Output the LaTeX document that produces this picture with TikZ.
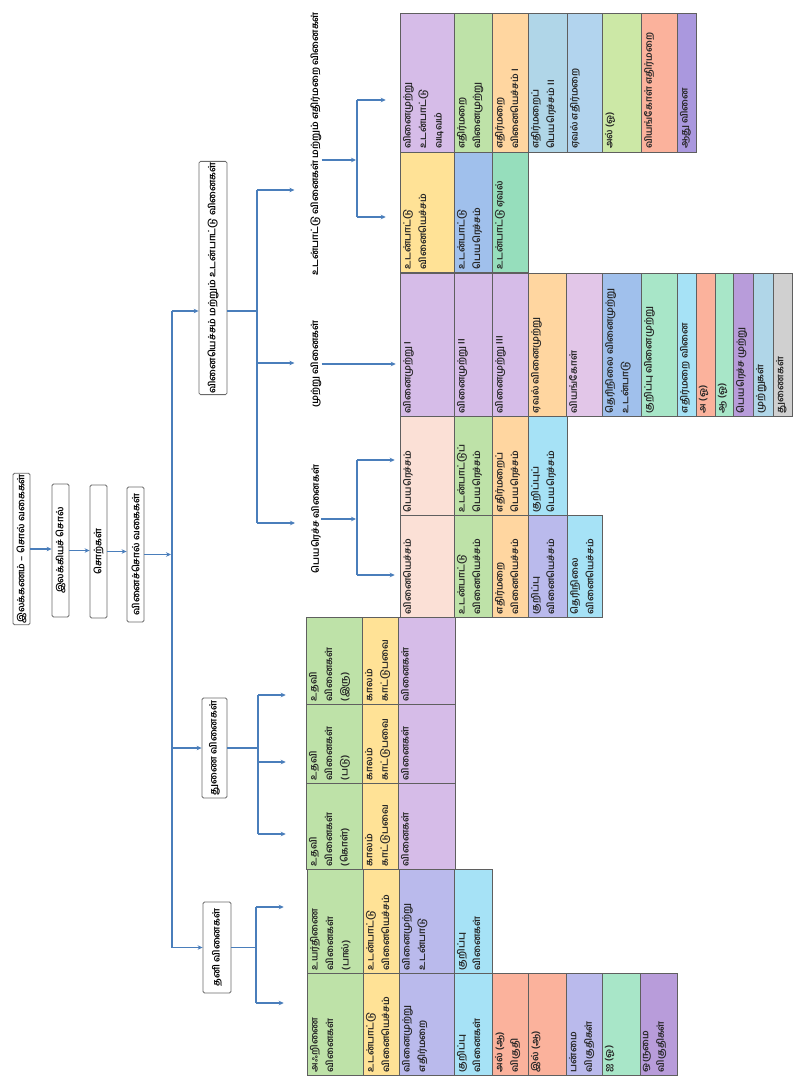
\documentclass[tikz,border=0pt]{standalone}
\usepackage{fontspec}
\newfontfamily\tamilfont[Script=Tamil]{Hind Madurai}
\usetikzlibrary{arrows.meta}
\definecolor{linkc}{RGB}{74,126,187}
\definecolor{boxline}{RGB}{105,105,105}
\definecolor{cellline}{RGB}{95,95,95}
\definecolor{cPur}{RGB}{214,188,232}
\definecolor{cGrn}{RGB}{190,226,168}
\definecolor{cPch}{RGB}{255,214,160}
\definecolor{cLbA}{RGB}{176,214,232}
\definecolor{cLbB}{RGB}{178,212,238}
\definecolor{cLgr}{RGB}{204,232,166}
\definecolor{cSal}{RGB}{251,178,156}
\definecolor{cLav}{RGB}{170,152,222}
\definecolor{cYel}{RGB}{255,226,150}
\definecolor{cBlu}{RGB}{160,192,236}
\definecolor{cTea}{RGB}{150,222,188}
\definecolor{cCya}{RGB}{166,226,246}
\definecolor{cPnk}{RGB}{251,224,214}
\definecolor{cGry}{RGB}{208,208,208}
\definecolor{cMnt}{RGB}{168,230,200}
\definecolor{cLvb}{RGB}{186,186,236}
\definecolor{cPkb}{RGB}{226,198,232}
\definecolor{cPuB}{RGB}{184,156,218}
\tikzset{
  conn/.style={draw=linkc, line width=1.1pt},
  arr/.style={conn, -{Stealth[length=5pt,width=4.5pt]}},
  topbox/.style={draw=boxline, line width=0.8pt, rounded corners=1.5pt, fill=white,
    rotate=90, inner sep=1pt, font=\tamilfont\bfseries\fontsize{9.5}{11}\selectfont},
  cbox/.style={draw=cellline, line width=0.5pt, rotate=90, inner sep=3pt,
    font=\tamilfont\bfseries\fontsize{9.5}{15.5}\selectfont, text=black!85},
  lab/.style={rotate=90, inner sep=0pt, font=\tamilfont\bfseries\fontsize{9.5}{11}\selectfont}
}
% name, x1, y1, x2, y2 (image px, y down), colour, text
\newcommand\cell[7]{\node[cbox, fill=#6] (#1) at ({(#2+#4)/2},{(#3+#5)/2})
  {\parbox[c][\dimexpr #4pt-#2pt-6pt\relax][t]{\dimexpr #5pt-#3pt-6pt\relax}{\raggedright #7}};}
\newcommand\tbox[6]{\node[topbox, minimum width={(#5-#3)*1pt}, minimum height={(#4-#2)*1pt}]
  (#1) at ({(#2+#4)/2},{(#3+#5)/2}) {#6};}
\begin{document}
\begin{tikzpicture}[x=1pt,y=-1pt]
\useasboundingbox[fill=white] (0,0) rectangle (795,1078);

% chain
\tbox{b1}{13}{483}{30}{615}{இலக்கணம் – சொல் வகைகள்}
\tbox{b2}{52}{484}{69}{617}{இலக்கியச் சொல்}
\tbox{b3}{90}{485}{107}{618}{சொற்கள்}
\tbox{b4}{127}{487}{144}{622}{வினைச்சொல் வகைகள்}
% top level
\tbox{C}{199}{167}{227}{389}{வினையெச்சம் மற்றும் உடன்பாட்டு வினைகள்}
\tbox{B}{202}{698}{227}{798}{துணை வினைகள்}
\tbox{A}{203}{902}{231}{993}{தனி வினைகள்}
% labels under C
\node[lab] (L1) at (316,144) {உடன்பாட்டு வினைகள் மற்றும் எதிர்மறை வினைகள்};
\node[lab] (L2) at (316,364) {முற்று வினைகள்};
\node[lab] (L3) at (316,519) {பெயரெச்ச வினைகள்};

% column 1
\cell{k11}{400}{13}{454}{152}{cPur}{வினைமுற்று\\ உடன்பாட்டு\\ வடிவம்}
\cell{k12}{454}{13}{492}{152}{cGrn}{எதிர்மறை\\ வினைமுற்று}
\cell{k13}{492}{13}{528}{152}{cPch}{எதிர்மறை\\ வினையெச்சம் I}
\cell{k14}{528}{13}{567}{152}{cLbA}{எதிர்மறைப்\\ பெயரெச்சம் II}
\cell{k15}{567}{13}{602}{152}{cLbB}{ஏவல் எதிர்மறை}
\cell{k16}{602}{13}{641}{152}{cLgr}{அல் (ஓ)}
\cell{k17}{641}{13}{677}{152}{cSal}{வியங்கோள் எதிர்மறை}
\cell{k18}{677}{13}{696}{152}{cLav}{ஆது வினை}
% column 2
\cell{k21}{400}{152}{454}{272}{cYel}{உடன்பாட்டு\\ வினையெச்சம்}
\cell{k22}{454}{152}{492}{272}{cBlu}{உடன்பாட்டு\\ பெயரெச்சம்}
\cell{k23}{492}{152}{528}{272}{cTea}{உடன்பாட்டு ஏவல்}
% column 3
\cell{k31}{400}{273}{454}{416}{cPur}{வினைமுற்று I}
\cell{k32}{454}{273}{492}{416}{cPur}{வினைமுற்று II}
\cell{k33}{492}{273}{528}{416}{cPur}{வினைமுற்று III}
\cell{k34}{528}{273}{566}{416}{cPch}{ஏவல் வினைமுற்று}
\cell{k35}{566}{273}{602}{416}{cPkb}{வியங்கோள்}
\cell{k36}{602}{273}{641}{416}{cBlu}{தெரிநிலை வினைமுற்று\\ உடன்பாடு}
\cell{k37}{641}{273}{677}{416}{cMnt}{குறிப்பு வினைமுற்று}
\cell{k38}{677}{273}{696}{416}{cCya}{எதிர்மறை வினை}
\cell{k39}{696}{273}{715}{416}{cSal}{அ (ஓ)}
\cell{k3a}{715}{273}{733}{416}{cMnt}{ஆ (ஓ)}
\cell{k3b}{733}{273}{753}{416}{cPuB}{பெயரெச்ச முற்று}
\cell{k3c}{753}{273}{773}{416}{cLbA}{முற்றுகள்}
\cell{k3d}{773}{273}{792}{416}{cGry}{துணைகள்}
% column 4
\cell{k41}{400}{416}{454}{515}{cPnk}{பெயரெச்சம்}
\cell{k42}{454}{416}{492}{515}{cGrn}{உடன்பாட்டுப்\\ பெயரெச்சம்}
\cell{k43}{492}{416}{528}{515}{cPch}{எதிர்மறைப்\\ பெயரெச்சம்}
\cell{k44}{528}{416}{567}{515}{cCya}{குறிப்புப்\\ பெயரெச்சம்}
% column 5
\cell{k51}{400}{515}{454}{617}{cPnk}{வினையெச்சம்}
\cell{k52}{454}{515}{492}{617}{cGrn}{உடன்பாட்டு\\ வினையெச்சம்}
\cell{k53}{492}{515}{528}{617}{cPch}{எதிர்மறை\\ வினையெச்சம்}
\cell{k54}{528}{515}{567}{617}{cLvb}{குறிப்பு\\ வினையெச்சம்}
\cell{k55}{567}{515}{602}{617}{cCya}{தெரிநிலை\\ வினையெச்சம்}
% B columns
\cell{m11}{306}{617}{362}{704}{cGrn}{உதவி\\ வினைகள்\\ (இரு)}
\cell{m12}{362}{617}{398}{704}{cYel}{காலம்\\ காட்டுபவை}
\cell{m13}{398}{617}{455}{704}{cPur}{வினைகள்}
\cell{m21}{306}{704}{362}{783}{cGrn}{உதவி\\ வினைகள்\\ (படு)}
\cell{m22}{362}{704}{398}{783}{cYel}{காலம்\\ காட்டுபவை}
\cell{m23}{398}{704}{455}{783}{cPur}{வினைகள்}
\cell{m31}{306}{783}{362}{869}{cGrn}{உதவி\\ வினைகள்\\ (கொள்)}
\cell{m32}{362}{783}{398}{869}{cYel}{காலம்\\ காட்டுபவை}
\cell{m33}{398}{783}{455}{869}{cPur}{வினைகள்}
% A columns
\cell{n11}{307}{869}{363}{973}{cGrn}{உயர்திணை\\ வினைகள்\\ (பால்)}
\cell{n12}{363}{869}{399}{973}{cYel}{உடன்பாட்டு\\ வினையெச்சம்}
\cell{n13}{399}{869}{454}{973}{cLvb}{வினைமுற்று\\ உடன்பாடு}
\cell{n14}{454}{869}{492}{973}{cCya}{குறிப்பு\\ வினைகள்}
\cell{n21}{307}{973}{363}{1075}{cGrn}{அஃறிணை\\ வினைகள்}
\cell{n22}{363}{973}{399}{1075}{cYel}{உடன்பாட்டு\\ வினையெச்சம்}
\cell{n23}{399}{973}{454}{1075}{cLvb}{வினைமுற்று\\ எதிர்மறை}
\cell{n24}{454}{973}{492}{1075}{cCya}{குறிப்பு\\ வினைகள்}
\cell{n25}{492}{973}{528}{1075}{cSal}{அல் (ஆ)\\ விகுதி}
\cell{n26}{528}{973}{566}{1075}{cSal}{இல் (ஆ)}
\cell{n27}{566}{973}{602}{1075}{cLvb}{பன்மை\\ விகுதிகள்}
\cell{n28}{602}{973}{640}{1075}{cMnt}{ஐ (ஓ)}
\cell{n29}{640}{973}{677}{1075}{cPuB}{ஒருமை\\ விகுதிகள்}

% coordinates for buses
\coordinate (s1T) at (172,311);
\coordinate (cJ) at (257,311);
\coordinate (cT) at (257,190);
\coordinate (cM) at (257,363);
\coordinate (cB) at (257,523);
\coordinate (d1J) at (357,160);
\coordinate (d1T) at (357,100);
\coordinate (d1B) at (357,217);
\coordinate (d3T) at (357,460);
\coordinate (d3B) at (357,575);
\coordinate (eT) at (258,695);
\coordinate (eM) at (258,762);
\coordinate (eB) at (258,834);
\coordinate (fT) at (256,907);
\coordinate (fB) at (256,1003);

% chain connectors
\draw[arr] (b1.south) -- (b2.north |- b1.south);
\draw[arr] (b2.south) -- (b3.north |- b2.south);
\draw[arr] (b3.south) -- (b4.north |- b3.south);
\draw[arr, shorten >=1pt] (b4.south) -- (b4.south -| s1T);
% first bus
\draw[conn] (s1T) -- (A.north -| s1T);
\draw[arr] (s1T) -- (C.north |- s1T);
\draw[arr] (B.north -| s1T) -- (B.north);
\draw[arr] (A.north -| s1T) -- (A.north);
% C branch
\draw[conn] (C.south |- cJ) -- (cJ);
\draw[conn] (cT) -- (cB);
\draw[arr, shorten >=16pt] (cT) -- (L1.north |- cT);
\draw[arr, shorten >=16pt] (cM) -- (L2.north |- cM);
\draw[arr, shorten >=16pt] (cB) -- (L3.north |- cB);
\draw[arr, shorten >=1pt] (L1.south |- d1J) -- (d1J);
\draw[conn] (d1T) -- (d1B);
\draw[arr, shorten >=14pt] (d1T) -- (k11.north |- d1T);
\draw[arr, shorten >=14pt] (d1B) -- (k21.north |- d1B);
\draw[arr, shorten >=4pt] (L2.south) -- (k31.north |- L2.south);
\draw[arr, shorten >=1pt] (L3.south) -- (L3.south -| d3T);
\draw[conn] (d3T) -- (d3B);
\draw[arr, shorten >=5pt] (d3T) -- (k41.north |- d3T);
\draw[arr, shorten >=5pt] (d3B) -- (k51.north |- d3B);
% B branch
\draw[conn] (B.south) -- (B.south -| eT);
\draw[conn] (eT) -- (eB);
\draw[arr, shorten >=20pt] (eT) -- (m11.north |- eT);
\draw[arr, shorten >=20pt] (eM) -- (m21.north |- eM);
\draw[arr, shorten >=20pt] (eB) -- (m31.north |- eB);
% A branch
\draw[conn] (A.south) -- (A.south -| fT);
\draw[conn] (fT) -- (fB);
\draw[arr, shorten >=23pt] (fT) -- (n11.north |- fT);
\draw[arr, shorten >=23pt] (fB) -- (n21.north |- fB);
\end{tikzpicture}
\end{document}
